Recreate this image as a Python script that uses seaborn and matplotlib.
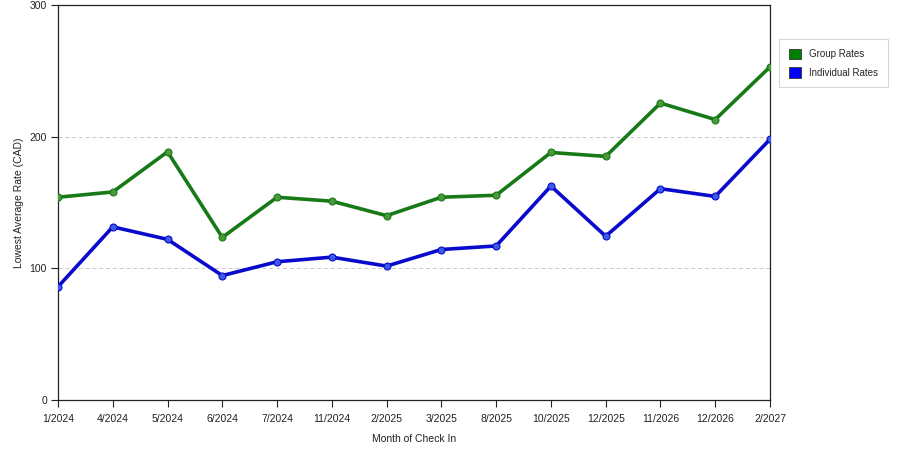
import matplotlib
matplotlib.use("Agg")
import matplotlib.pyplot as plt
from matplotlib.patches import Patch
import seaborn as sns
import pandas as pd

months = ["1/2024", "4/2024", "5/2024", "6/2024", "7/2024", "11/2024", "2/2025",
          "3/2025", "8/2025", "10/2025", "12/2025", "11/2026", "12/2026", "2/2027"]
group_rates = [154, 158, 188.5, 123.5, 154, 151, 140, 154, 155.5, 188, 185, 225.5, 213, 253]
individual_rates = [86, 131.5, 122, 94.5, 105, 108.5, 101.7, 114.3, 117, 162.5, 124.4, 160.5, 154.6, 198]
series_names = ["Group Rates", "Individual Rates"]

sns.set_theme(style="white")
plt.rcParams['font.family'] = ['Liberation Sans', 'DejaVu Sans']

pos = list(range(len(months)))
df = pd.DataFrame({
    "pos": pos * 2,
    "value": group_rates + individual_rates,
    "series": [series_names[0]] * len(months) + [series_names[1]] * len(months),
})

line_colors = {series_names[0]: "#177a17", series_names[1]: "#0a0acc"}
marker_fill = {series_names[0]: "#4a9a3a", series_names[1]: "#3a5ae8"}
legend_colors = ["#008000", "#0000ff"]

fig = plt.figure(figsize=(9, 4.5), dpi=100)
ax = fig.add_axes([58/900, 1-400/450, (770-58)/900, (400-5)/450])

for name in series_names:
    sub = df[df["series"] == name]
    sns.lineplot(data=sub, x="pos", y="value", ax=ax, color=line_colors[name],
                 linewidth=2.6, marker="o", markersize=5,
                 markerfacecolor=marker_fill[name], markeredgecolor=line_colors[name],
                 markeredgewidth=0.8, legend=False, zorder=3)

ax.set_xlim(0, len(months) - 1)
ax.set_ylim(0, 300)
ax.set_xticks(pos)
ax.set_xticklabels(months)
ax.set_yticks([0, 100, 200, 300])
ax.tick_params(axis="both", direction="out", length=5, width=0.8, color="#222222",
               labelsize=7.5, labelcolor="#222222", bottom=True, left=True)
ax.tick_params(axis="x", pad=5)
ax.tick_params(axis="y", pad=3)
for y in [100, 200]:
    ax.axhline(y, color="#c8c8d0", linestyle=(0, (4, 3)), linewidth=0.7, zorder=1)
for s in ax.spines.values():
    s.set_color("#222222")
    s.set_linewidth(0.9)

ax.set_xlabel("Month of Check In", fontsize=7.5, color="#222222", labelpad=7)
ax.set_ylabel("Lowest Average Rate (CAD)", fontsize=7.5, color="#222222", labelpad=4)

handles = [Patch(facecolor=c, edgecolor="#333333", linewidth=0.6) for c in legend_colors]
leg = fig.legend(handles, series_names, loc="upper left",
                 bbox_to_anchor=(779/900, 1-39/450), fontsize=7, frameon=True,
                 fancybox=False, handlelength=1.3, handleheight=1.3, handletextpad=0.8,
                 borderpad=1.0, labelspacing=0.8, borderaxespad=0)
leg.get_frame().set_edgecolor("#cccccc")
leg.get_frame().set_linewidth(0.8)

fig.savefig("out.png", dpi=100)
